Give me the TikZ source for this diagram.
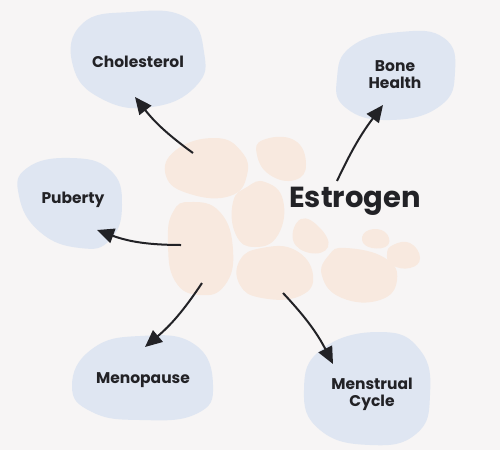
\documentclass[tikz,border=0pt]{standalone}
\usepackage{fontspec}
\setmainfont{Poppins}
\usepackage{xcolor}
\usetikzlibrary{arrows.meta}

\definecolor{bgcol}{HTML}{F7F5F5}
\definecolor{bluecol}{HTML}{DFE6F2}
\definecolor{peachcol}{HTML}{F8E9DF}
\definecolor{inkcol}{HTML}{222226}

\tikzset{
  blueblob/.style={fill=bluecol,draw=none},
  peachblob/.style={fill=peachcol,draw=none},
  label/.style={text=inkcol,font=\fontsize{15.5}{17}\selectfont\bfseries,align=center},
  arr/.style={->,line width=2pt,draw=inkcol},
}

\begin{document}
\begin{tikzpicture}[x=1pt,y=-1pt,>={Triangle[length=17pt,width=15pt]}]
    \useasboundingbox[fill=bgcol] (0,0) rectangle (500,450);
    % outer blue blobs
    \fill[blueblob] plot[smooth cycle,tension=0.8] coordinates
      {(82,24) (130,12) (185,17) (204,52) (196,86) (152,107) (102,99) (73,66)};
    \fill[blueblob] plot[smooth cycle,tension=0.8] coordinates
      {(352,46) (400,32) (444,38) (455,72) (440,106) (390,120) (346,108) (337,78)};
    \fill[blueblob] plot[smooth cycle,tension=0.8] coordinates
      {(27,168) (70,158) (110,170) (122,205) (110,240) (80,248) (40,232) (19,196)};
    \fill[blueblob] plot[smooth cycle,tension=0.8] coordinates
      {(92,349) (140,336) (194,344) (213,385) (196,414) (140,420) (92,412) (72,386)};
    \fill[blueblob] plot[smooth cycle,tension=0.8] coordinates
      {(322,349) (380,332) (420,350) (430,395) (416,434) (370,445) (320,430) (304,390)};
    % peach cluster
    \fill[peachblob] plot[smooth cycle,tension=0.8] coordinates
      {(176,150) (215,138) (241,151) (247,175) (230,196) (190,194) (166,176)};
    \fill[peachblob] plot[smooth cycle,tension=0.8] coordinates
      {(263,140) (294,140) (306,164) (295,180) (270,175) (257,155)};
    \fill[peachblob] plot[smooth cycle,tension=0.8] coordinates
      {(265,182) (283,200) (278,235) (255,247) (236,235) (233,202) (247,187)};
    \fill[peachblob] plot[smooth cycle,tension=0.8] coordinates
      {(190,202) (220,212) (233,250) (225,285) (200,295) (175,281) (168,242) (173,212)};
    \fill[peachblob] plot[smooth cycle,tension=0.8] coordinates
      {(301,219) (320,228) (328,247) (310,253) (293,240)};
    \fill[peachblob] plot[smooth cycle,tension=0.8] coordinates
      {(262,248) (295,250) (313,275) (300,296) (262,298) (240,285) (240,260)};
    \fill[peachblob] plot[smooth cycle,tension=0.8] coordinates
      {(346,248) (385,258) (397,280) (380,300) (342,298) (322,276) (329,255)};
    \fill[peachblob] plot[smooth cycle,tension=0.8] coordinates
      {(369,230) (385,232) (388,245) (372,248) (362,240)};
    \fill[peachblob] plot[smooth cycle,tension=0.8] coordinates
      {(393,245) (410,243) (420,258) (410,268) (392,265) (387,254)};
    % labels
    \node[text=inkcol,font=\fontsize{29}{33}\selectfont\bfseries] (estrogen) at (355,201) {Estrogen};
    \node[label] (chol) at (138,62) {Cholesterol};
    \node[label] (bone) at (395,75) {Bone\\Health};
    \node[label] (puberty) at (73,200) {Puberty};
    \node[label] (meno) at (143,380) {Menopause};
    \node[label] (menstr) at (372,394) {Menstrual\\Cycle};
    % arrow ends
    \coordinate (chol-from) at (193,153);
    \coordinate (chol-to) at (135,97);
    \coordinate (bone-from) at (337,181);
    \coordinate (bone-to) at (383,105);
    \coordinate (pub-from) at (181,245);
    \coordinate (pub-to) at (97,230);
    \coordinate (meno-from) at (202,283);
    \coordinate (meno-to) at (145,347);
    \coordinate (menstr-from) at (283,293);
    \coordinate (menstr-to) at (333,364);
    % arrows
    \draw[arr] (chol-from) to[bend left=8] (chol-to);
    \draw[arr] (bone-from) to[bend left=6] (bone-to);
    \draw[arr] (pub-from) to[bend left=10] (pub-to);
    \draw[arr] (meno-from) to[bend left=8] (meno-to);
    \draw[arr] (menstr-from) to[bend left=8] (menstr-to);
\end{tikzpicture}
\end{document}
